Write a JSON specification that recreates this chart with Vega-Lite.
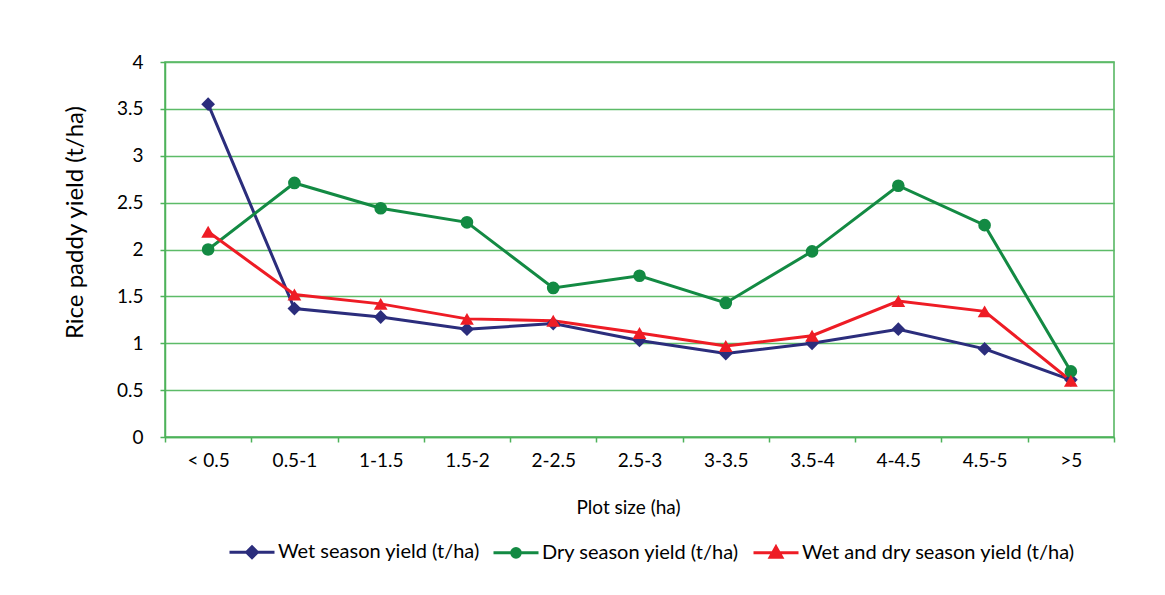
{
  "$schema": "https://vega.github.io/schema/vega-lite/v6.json",
  "width": 949,
  "height": 375,
  "autosize": {"type": "none"},
  "padding": {"left": 165, "top": 62, "right": 51, "bottom": 158},
  "background": "white",
  "config": {
    "font": "Lato",
    "view": {"stroke": "#4DB25A", "strokeWidth": 1.5},
    "axis": {"labelFont": "Lato", "titleFont": "Lato", "labelColor": "black", "titleColor": "black", "titleFontWeight": "normal"}
  },
  "data": {
    "values": [
      {"plot": "< 0.5", "series": "Wet season yield (t/ha)", "yield": 3.55},
      {"plot": "0.5-1", "series": "Wet season yield (t/ha)", "yield": 1.37},
      {"plot": "1-1.5", "series": "Wet season yield (t/ha)", "yield": 1.28},
      {"plot": "1.5-2", "series": "Wet season yield (t/ha)", "yield": 1.15},
      {"plot": "2-2.5", "series": "Wet season yield (t/ha)", "yield": 1.21},
      {"plot": "2.5-3", "series": "Wet season yield (t/ha)", "yield": 1.03},
      {"plot": "3-3.5", "series": "Wet season yield (t/ha)", "yield": 0.89},
      {"plot": "3.5-4", "series": "Wet season yield (t/ha)", "yield": 1.0},
      {"plot": "4-4.5", "series": "Wet season yield (t/ha)", "yield": 1.15},
      {"plot": "4.5-5", "series": "Wet season yield (t/ha)", "yield": 0.94},
      {"plot": ">5", "series": "Wet season yield (t/ha)", "yield": 0.61},
      {"plot": "< 0.5", "series": "Dry season yield (t/ha)", "yield": 2.0},
      {"plot": "0.5-1", "series": "Dry season yield (t/ha)", "yield": 2.71},
      {"plot": "1-1.5", "series": "Dry season yield (t/ha)", "yield": 2.44},
      {"plot": "1.5-2", "series": "Dry season yield (t/ha)", "yield": 2.29},
      {"plot": "2-2.5", "series": "Dry season yield (t/ha)", "yield": 1.59},
      {"plot": "2.5-3", "series": "Dry season yield (t/ha)", "yield": 1.72},
      {"plot": "3-3.5", "series": "Dry season yield (t/ha)", "yield": 1.43},
      {"plot": "3.5-4", "series": "Dry season yield (t/ha)", "yield": 1.98},
      {"plot": "4-4.5", "series": "Dry season yield (t/ha)", "yield": 2.68},
      {"plot": "4.5-5", "series": "Dry season yield (t/ha)", "yield": 2.26},
      {"plot": ">5", "series": "Dry season yield (t/ha)", "yield": 0.7},
      {"plot": "< 0.5", "series": "Wet and dry season yield (t/ha)", "yield": 2.19},
      {"plot": "0.5-1", "series": "Wet and dry season yield (t/ha)", "yield": 1.52},
      {"plot": "1-1.5", "series": "Wet and dry season yield (t/ha)", "yield": 1.42},
      {"plot": "1.5-2", "series": "Wet and dry season yield (t/ha)", "yield": 1.26},
      {"plot": "2-2.5", "series": "Wet and dry season yield (t/ha)", "yield": 1.24},
      {"plot": "2.5-3", "series": "Wet and dry season yield (t/ha)", "yield": 1.11},
      {"plot": "3-3.5", "series": "Wet and dry season yield (t/ha)", "yield": 0.97},
      {"plot": "3.5-4", "series": "Wet and dry season yield (t/ha)", "yield": 1.08},
      {"plot": "4-4.5", "series": "Wet and dry season yield (t/ha)", "yield": 1.45},
      {"plot": "4.5-5", "series": "Wet and dry season yield (t/ha)", "yield": 1.34},
      {"plot": ">5", "series": "Wet and dry season yield (t/ha)", "yield": 0.6}
    ]
  },
  "encoding": {
    "x": {
      "field": "plot", "type": "ordinal",
      "sort": ["< 0.5", "0.5-1", "1-1.5", "1.5-2", "2-2.5", "2.5-3", "3-3.5", "3.5-4", "4-4.5", "4.5-5", ">5"],
      "scale": {"type": "band", "paddingInner": 0, "paddingOuter": 0},
      "axis": {
        "title": "Plot size (ha)", "titleFontSize": 19, "titleX": 463, "titleY": 70, "titleBaseline": "middle",
        "labelAngle": 0, "labelFontSize": 19, "labelPadding": 9,
        "tickBand": "extent", "tickSize": 5, "tickColor": "#4DB25A", "tickWidth": 1.5,
        "domainColor": "#4DB25A", "domainWidth": 1.5, "grid": false
      }
    },
    "y": {
      "field": "yield", "type": "quantitative",
      "scale": {"domain": [0, 4], "nice": false},
      "axis": {
        "title": "Rice paddy yield  (t/ha)", "titleFontSize": 24, "titleX": -90, "titleY": 160, "titleBaseline": "middle", "titleAngle": -90,
        "values": [0, 0.5, 1, 1.5, 2, 2.5, 3, 3.5, 4], "format": "~g", "labelFontSize": 19, "labelPadding": 17,
        "tickSize": 5, "tickColor": "#4DB25A", "tickWidth": 1.5,
        "domainColor": "#4DB25A", "domainWidth": 1.5,
        "grid": true, "gridColor": "#5DBB68", "gridWidth": 1.5, "gridOpacity": 1
      }
    },
    "color": {
      "field": "series", "type": "nominal",
      "sort": ["Wet season yield (t/ha)", "Dry season yield (t/ha)", "Wet and dry season yield (t/ha)"],
      "scale": {"domain": ["Wet season yield (t/ha)", "Dry season yield (t/ha)", "Wet and dry season yield (t/ha)"], "range": ["#2B2D7C", "#138A43", "#EE1C25"]},
      "legend": {
        "title": null, "orient": "none", "direction": "horizontal", "columns": 3,
        "legendX": 63, "legendY": 466,
        "labelFontSize": 20, "labelFont": "Lato", "labelColor": "black", "labelOffset": 2, "labelLimit": 500,
        "columnPadding": 7, "symbolSize": 2025, "symbolStrokeWidth": 3,
        "symbolStrokeColor": {"expr": "scale('color', datum.value)"},
        "symbolFillColor": {"expr": "scale('color', datum.value)"},
        "symbolType": {"expr": "datum.value === 'Wet season yield (t/ha)' ? 'M-1,0H1M0,-0.24L0.24,0L0,0.24L-0.24,0Z' : datum.value === 'Dry season yield (t/ha)' ? 'M-1,0H1M0.19,0A0.19,0.19,0,1,1,-0.19,0A0.19,0.19,0,1,1,0.19,0Z' : 'M-1,0H1M0,-0.26L0.26,0.2L-0.26,0.2Z'"}
      }
    }
  },
  "layer": [
    {"mark": {"type": "line", "strokeWidth": 3}, "encoding": {"detail": {"field": "series"}}},
    {
      "transform": [{"filter": "datum.series === 'Wet season yield (t/ha)'"}],
      "mark": {"type": "point", "filled": true, "opacity": 1, "size": 190, "shape": "diamond"}
    },
    {
      "transform": [{"filter": "datum.series === 'Dry season yield (t/ha)'"}],
      "mark": {"type": "point", "filled": true, "opacity": 1, "size": 160, "shape": "circle"}
    },
    {
      "transform": [{"filter": "datum.series === 'Wet and dry season yield (t/ha)'"}],
      "mark": {"type": "point", "filled": true, "opacity": 1, "size": 190, "shape": "triangle-up"}
    }
  ]
}
